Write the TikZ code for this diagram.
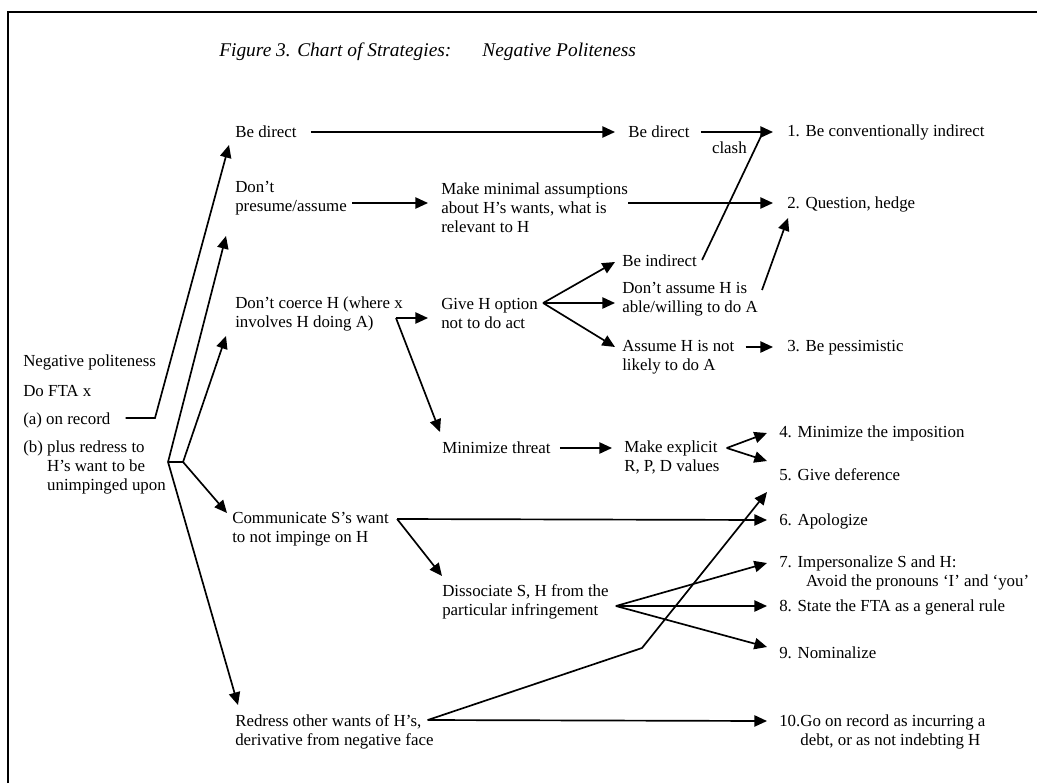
\documentclass[tikz,border=0pt]{standalone}
\usepackage{fontspec}
\setmainfont{Liberation Serif}
\usetikzlibrary{arrows.meta}
\begin{document}
\begin{tikzpicture}[x=0.025cm,y=-0.025cm]

      \tikzset{strat/.style={anchor=west, inner sep=0pt, align=left, font=\fontsize{12}{13.5}\selectfont},
               arr/.style={-{Triangle[length=9pt,width=8pt]}, line width=1.2pt},
               seg/.style={line width=1.2pt}}
      \useasboundingbox (0,0) rectangle (1037,783);
      \draw[line width=1pt] (8,783) -- (8,12) -- (1037,12);
%% Title
      \node[strat, font=\itshape\fontsize{13.8}{16}\selectfont] (title) at (219,52) {Figure 3. Chart of Strategies:\hspace{22pt}Negative Politeness};
%% Start
      \node[strat] (negpol) at (23,362) {Negative politeness};
      \node[strat] (dofta) at (23,391) {Do FTA x};
      \node[strat] (onrec) at (23,420) {(a) on record};
      \node[strat] (redress) at (23,467) {(b) plus redress to\\\phantom{(b) }H's want to be\\\phantom{(b) }unimpinged upon};
%% Strategies
      \node[strat] (bedirect) at (235,132) {Be direct};
      \node[strat] (presume) at (235,198) {Don't\\presume/assume};
      \node[strat] (coerce) at (235,313.5) {Don't coerce H (where x\\involves H doing A)};
      \node[strat] (communicate) at (232,529.5) {Communicate S's want\\to not impinge on H};
      \node[strat] (redressother) at (235,731.5) {Redress other wants of H's,\\derivative from negative face};
      \node[strat] (bedirectb) at (628,132) {Be direct};
      \node[strat] (minimal) at (441,208) {Make minimal assumptions\\about H's wants, what is\\relevant to H};
      \node[strat] (option) at (441,313.5) {Give H option\\not to do act};
      \node[strat] (minthreat) at (442,448) {Minimize threat};
      \node[strat] (dissociate) at (442,601.5) {Dissociate S, H from the\\particular infringement};
      \node[strat] (beindirect) at (622,261) {Be indirect};
      \node[strat] (dontassume) at (622,299.5) {Don't assume H is\\able/willing to do A};
      \node[strat] (assume) at (622,357) {Assume H is not\\likely to do A};
      \node[strat] (explicit) at (624,457.5) {Make explicit\\R, P, D values};
      \node[strat, anchor=east] (clash) at (747,148) {clash};
%% Outputs
      \node[strat] (s1) at (787,132) {1. Be conventionally indirect};
      \node[strat] (s2) at (787,204) {2. Question, hedge};
      \node[strat] (s3) at (787,348) {3. Be pessimistic};
      \node[strat] (s4) at (779,433) {4. Minimize the imposition};
      \node[strat] (s5) at (779,475) {5. Give deference};
      \node[strat] (s6) at (779,521) {6. Apologize};
      \node[strat] (s7) at (779,572.5) {7. Impersonalize S and H:\\\hspace*{19pt}Avoid the pronouns `I' and `you'};
      \node[strat] (s8) at (779,607) {8. State the FTA as a general rule};
      \node[strat] (s9) at (779,653) {9. Nominalize};
      \node[strat] (s10) at (779,731.5) {10.Go on record as incurring a\\\hspace*{15pt}debt, or as not indebting H};
%% Joints
      \coordinate (a1) at (155,418);
      \coordinate (b1) at ([shift={(2,-5)}]redress.east);
      \coordinate (b2) at ([shift={(15,0)}]b1);
      \coordinate (cx) at ([shift={(-7,4.5)}]coerce.east);
      \coordinate (ox) at ([shift={(5,-10.5)}]option.east);
      \coordinate (ex) at ([shift={(7,-9.5)}]explicit.east);
      \coordinate (sx) at ([shift={(8,-10.5)}]communicate.east);
      \coordinate (dx) at ([shift={(7,4.5)}]dissociate.east);
      \coordinate (rx) at ([shift={(-6,-11.5)}]redressother.east);
      \coordinate (rbend) at (642,648);
%Edges
      \draw[arr] ([shift={(15,-2)}]onrec.east) -- (a1) -- ([shift={(-6,13)}]bedirect.west);
      \draw[seg] (b1) -- (b2);
      \path[arr] (b1) edge ([shift={(-9,38)}]presume.west);
      \path[arr] (b2) edge ([shift={(-9,22.5)}]coerce.west);
      \path[arr] (b2) edge ([shift={(-5,-16.5)}]communicate.west);
      \path[arr] (b1) edge ([shift={(3,-26.5)}]redressother.west);

      \path[arr] ([shift={(14,0)}]bedirect.east) edge ([shift={(-13,0)}]bedirectb.west);
      \path[arr] ([shift={(11,0)}]bedirectb.east) edge ([shift={(-14,0)}]s1.west);
      \draw[seg] ([shift={(5,-1)}]beindirect.east) -- ([shift={(-24,0)}]s1.west);
      \path[arr] ([shift={(5,5)}]presume.east) edge ([shift={(-13,-5)}]minimal.west);
      \path[arr] ([shift={(0,-5)}]minimal.east) edge ([shift={(-14,-1)}]s2.west);
      \path[arr] (cx) edge ([shift={(-13,4.5)}]option.west);
      \path[arr] (cx) edge ([shift={(-2,-16)}]minthreat.west);
      \path[arr] (ox) edge ([shift={(-7,1)}]beindirect.west);
      \path[arr] (ox) edge ([shift={(-7,3.5)}]dontassume.west);
      \path[arr] (ox) edge ([shift={(-7,-10)}]assume.west);
      \path[arr] ([shift={(4,-9.5)}]dontassume.east) edge ([shift={(1,14)}]s2.west);
      \path[arr] ([shift={(11,-10)}]assume.east) edge ([shift={(-14,-1)}]s3.west);

      \path[arr] ([shift={(9,0)}]minthreat.east) edge ([shift={(-12,-9.5)}]explicit.west);
      \path[arr] (ex) edge ([shift={(-12,0)}]s4.west);
      \path[arr] (ex) edge ([shift={(-12,-14)}]s5.west);
      \path[arr] (sx) edge ([shift={(-12,-1)}]s6.west);
      \path[arr] (sx) edge ([shift={(0,-25.5)}]dissociate.west);
      \path[arr] (dx) edge ([shift={(-12,-9.5)}]s7.west);
      \path[arr] (dx) edge ([shift={(-12,-1)}]s8.west);
      \path[arr] (dx) edge ([shift={(-12,-6)}]s9.west);
      \draw[arr] (rx) -- (rbend) -- ([shift={(-12,17)}]s5.west);
      \path[arr] (rx) edge ([shift={(-12,-10.5)}]s10.west);

\end{tikzpicture}
\end{document}
